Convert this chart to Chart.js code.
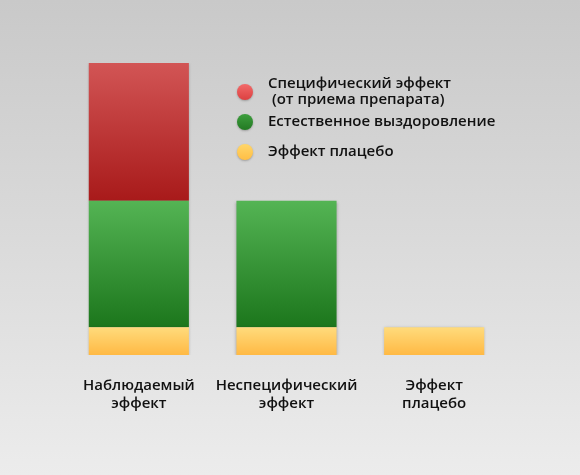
<!DOCTYPE html>
<html>
<head>
<meta charset="utf-8">
<script src="https://cdn.jsdelivr.net/npm/chart.js@4.4.1/dist/chart.umd.min.js"></script>
<style>
  html, body { margin: 0; padding: 0; }
  body {
    width: 580px;
    height: 475px;
    background: linear-gradient(to bottom, #c9c9c9 0%, #dadada 50%, #ececec 100%);
    overflow: hidden;
  }
  #wrap { width: 580px; height: 475px; }
</style>
</head>
<body>
<div id="wrap"><canvas id="effectChart"></canvas></div>
<script>
// categories and series
const categories = [
  ["Наблюдаемый", "эффект"],
  ["Неспецифический", "эффект"],
  ["Эффект", "плацебо"],
];
const placeboValues = [2, 2, 2];
const naturalValues = [9.1, 9.1, 0];
const specificValues = [9.9, 0, 0];

const legendNames = {
  specific: ["Специфический эффект", " (от приема препарата)"],
  natural: "Естественное выздоровление",
  placebo: "Эффект плацебо",
};

const FONT = "'Open Sans', sans-serif";

// vertical gradient for one stacked segment
function segmentFill(top, bottom) {
  return (context) => {
    const chart = context.chart;
    const { ctx, chartArea, scales } = chart;
    if (!chartArea || context.dataIndex === undefined) return top;
    const ds = chart.data.datasets;
    let base = 0;
    for (let d = 0; d < context.datasetIndex; d++) base += ds[d].data[context.dataIndex];
    const val = ds[context.datasetIndex].data[context.dataIndex];
    const y0 = scales.y.getPixelForValue(base + val);
    const y1 = scales.y.getPixelForValue(base);
    if (!isFinite(y0) || !isFinite(y1) || y0 === y1) return top;
    const g = ctx.createLinearGradient(0, y0, 0, y1);
    g.addColorStop(0, top);
    g.addColorStop(1, bottom);
    return g;
  };
}

// soft shadow under the bars
const barShadow = {
  id: "barShadow",
  beforeDatasetsDraw(chart) {
    const ctx = chart.ctx;
    ctx.save();
    ctx.shadowColor = "rgba(0,0,0,0.28)";
    ctx.shadowBlur = 3;
    ctx.shadowOffsetY = 1;
  },
  afterDatasetsDraw(chart) {
    chart.ctx.restore();
  },
};

// legend drawn beside the first bar, with shaded dots
const dotLegend = {
  id: "dotLegend",
  afterDraw(chart) {
    const ctx = chart.ctx;
    const items = [
      { ds: 2, cy: 92, lines: chart.data.datasets[2].legendText },
      { ds: 1, cy: 122, lines: chart.data.datasets[1].legendText },
      { ds: 0, cy: 152, lines: chart.data.datasets[0].legendText },
    ];
    ctx.save();
    items.forEach((it) => {
      const dataset = chart.data.datasets[it.ds];
      const cx = 245, r = 8;
      ctx.save();
      ctx.shadowColor = "rgba(0,0,0,0.25)";
      ctx.shadowBlur = 2;
      ctx.shadowOffsetY = 1;
      const g = ctx.createLinearGradient(0, it.cy - r, 0, it.cy + r);
      g.addColorStop(0, dataset.dotColors[0]);
      g.addColorStop(1, dataset.dotColors[1]);
      ctx.fillStyle = g;
      ctx.beginPath();
      ctx.arc(cx, it.cy, r, 0, Math.PI * 2);
      ctx.fill();
      ctx.restore();

      ctx.fillStyle = "#111111";
      ctx.font = "600 15px " + FONT;
      ctx.textBaseline = "middle";
      ctx.textAlign = "left";
      const lines = Array.isArray(it.lines) ? it.lines : [it.lines];
      const lh = 16;
      const startY = it.cy - ((lines.length - 1) * lh) / 2;
      lines.forEach((t, i) => ctx.fillText(t, 268, startY + i * lh));
    });
    ctx.restore();
  },
};

const effectCtx = document.getElementById("effectChart").getContext("2d");
new Chart(effectCtx, {
  type: "bar",
  data: {
    labels: categories,
    datasets: [
      {
        label: legendNames.placebo,
        legendText: legendNames.placebo,
        data: placeboValues,
        backgroundColor: segmentFill("#ffdb7c", "#ffb944"),
        dotColors: ["#ffd66a", "#ffbe45"],
      },
      {
        label: legendNames.natural,
        legendText: legendNames.natural,
        data: naturalValues,
        backgroundColor: segmentFill("#54b454", "#1c761c"),
        dotColors: ["#3e9e3e", "#237a23"],
      },
      {
        label: legendNames.specific.join(""),
        legendText: legendNames.specific,
        data: specificValues,
        backgroundColor: segmentFill("#d25555", "#a81a1a"),
        dotColors: ["#f26a6a", "#dc4040"],
      },
    ],
  },
  options: {
    responsive: true,
    maintainAspectRatio: false,
    animation: false,
    layout: {
      padding: { left: 65, right: 72, top: 63, bottom: 0 },
    },
    datasets: {
      bar: {
        categoryPercentage: 1,
        barPercentage: 0.678,
        borderWidth: 0,
      },
    },
    scales: {
      x: {
        stacked: true,
        grid: { display: false, drawTicks: false },
        border: { display: false },
        ticks: {
          color: "#111111",
          font: { family: FONT, size: 15, weight: "600" },
          padding: 22,
          maxRotation: 0,
          autoSkip: false,
        },
        afterFit(scale) {
          scale.height = 120;
        },
      },
      y: {
        stacked: true,
        display: false,
        min: 0,
        max: 21,
      },
    },
    plugins: {
      legend: { display: false },
      tooltip: { enabled: false },
    },
  },
  plugins: [barShadow, dotLegend],
});
</script>
</body>
</html>
